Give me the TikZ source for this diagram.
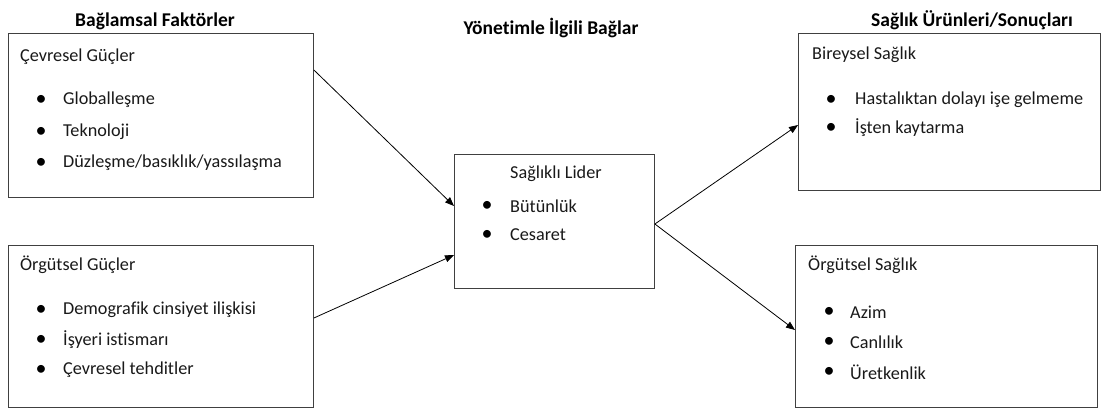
\documentclass[tikz,border=0pt]{standalone}
\usepackage{fontspec}
\setmainfont[Ligatures=CommonOff]{Carlito}
\usetikzlibrary{arrows.meta}
\begin{document}
\begin{tikzpicture}[x=1pt,y=-1pt,
  panel/.style={draw=black!75, line width=0.9pt, anchor=north west, inner sep=0pt},
  lbl/.style={anchor=west, inner sep=0pt, text=black!90, font=\fontsize{18.2}{20}\selectfont},
  bul/.style={anchor=center, inner sep=0pt, text=black, font=\fontsize{22}{22}\selectfont},
  head/.style={anchor=center, inner sep=0pt, font=\bfseries\fontsize{19.5}{21}\selectfont},
  link/.style={-{Triangle[length=9pt,width=7pt]}, line width=0.8pt}
]
\useasboundingbox (0,0) rectangle (1102,408);

% column headings
\node[head] (h1) at (155,21) {Bağlamsal Faktörler};
\node[head] (h2) at (551,28) {Yönetimle İlgili Bağlar};
\node[head] (h3) at (972,20) {Sağlık Ürünleri/Sonuçları};

% boxes
\node[panel, minimum width=305pt, minimum height=164pt] (env) at (8,33) {};
\node[panel, minimum width=305pt, minimum height=162pt] (org) at (8,245) {};
\node[panel, minimum width=200pt, minimum height=134pt] (lead) at (454,154) {};
\node[panel, minimum width=302pt, minimum height=157pt] (ind) at (798,33) {};
\node[panel, minimum width=302pt, minimum height=162pt] (ohl) at (795,245) {};

% environmental forces
\node[lbl] (e0) at (20,57) {Çevresel Güçler};
\node[bul] (e1b) at (41,100) {•};
\node[lbl] (e1) at (63,100) {Globalleşme};
\node[bul] (e2b) at (41,132) {•};
\node[lbl] (e2) at (63,132) {Teknoloji};
\node[bul] (e3b) at (41,163) {•};
\node[lbl] (e3) at (63,163) {Düzleşme/basıklık/yassılaşma};

% organisational forces
\node[lbl] (o0) at (20,265) {Örgütsel Güçler};
\node[bul] (o1b) at (41,310) {•};
\node[lbl] (o1) at (63,310) {Demografik cinsiyet ilişkisi};
\node[bul] (o2b) at (41,340) {•};
\node[lbl] (o2) at (63,340) {İşyeri istismarı};
\node[bul] (o3b) at (41,370) {•};
\node[lbl] (o3) at (63,370) {Çevresel tehditler};

% healthy leader
\node[lbl] (l0) at (510,174) {Sağlıklı Lider};
\node[bul] (l1b) at (487,206) {•};
\node[lbl] (l1) at (510,206) {Bütünlük};
\node[bul] (l2b) at (487,235) {•};
\node[lbl] (l2) at (510,235) {Cesaret};

% individual health
\node[lbl] (i0) at (812,55) {Bireysel Sağlık};
\node[bul] (i1b) at (831,100) {•};
\node[lbl] (i1) at (855,100) {Hastalıktan dolayı işe gelmeme};
\node[bul] (i2b) at (831,128) {•};
\node[lbl] (i2) at (855,128) {İşten kaytarma};

% organisational health
\node[lbl] (s0) at (808,265) {Örgütsel Sağlık};
\node[bul] (s1b) at (829,312) {•};
\node[lbl] (s1) at (850,312) {Azim};
\node[bul] (s2b) at (829,342) {•};
\node[lbl] (s2) at (850,342) {Canlılık};
\node[bul] (s3b) at (829,372) {•};
\node[lbl] (s3) at (850,372) {Üretkenlik};

% connectors
\draw[link] ([yshift=-37pt]env.north east) -- ([yshift=-52pt]lead.north west);
\draw[link] ([yshift=-73pt]org.north east) -- ([yshift=-101pt]lead.north west);
\draw[link] ([yshift=-70pt]lead.north east) -- ([yshift=-92pt]ind.north west);
\draw[link] ([yshift=-70pt]lead.north east) -- ([yshift=-85pt]ohl.north west);
\end{tikzpicture}
\end{document}
